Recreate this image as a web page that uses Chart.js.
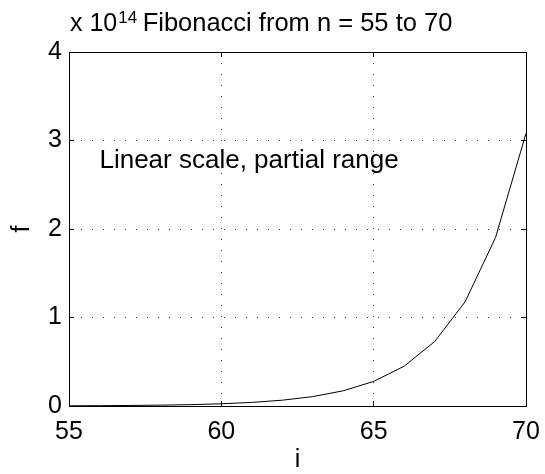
<!DOCTYPE html>
<html>
<head>
<meta charset="utf-8">
<script src="https://cdn.jsdelivr.net/npm/chart.js@4/dist/chart.umd.min.js"></script>
<style>
  html, body { margin: 0; padding: 0; background: #fff; }
  #wrap { width: 545px; height: 474px; }
</style>
</head>
<body>
<div id="wrap"><canvas id="c" width="545" height="474"></canvas></div>
<script>
// ---- data (f in units of 1e14) ----
const iValues = [55, 56, 57, 58, 59, 60, 61, 62, 63, 64, 65, 66, 67, 68, 69, 70];
const fValues = [0.00226, 0.00365, 0.00591, 0.00957, 0.01548, 0.02505, 0.04053, 0.06557,
                 0.10610, 0.17168, 0.27778, 0.44946, 0.72723, 1.17669, 1.90392, 3.08062];
const xTicks = [55, 60, 65, 70];
const yTicks = [0, 1, 2, 3, 4];
const titleText = 'Fibonacci from n = 55 to 70';
const exponentBase = 'x 10';
const exponentPower = '14';
const xLabel = 'i';
const yLabel = 'f';
const noteText = 'Linear scale, partial range';
const noteAt = [56, 2.69];

const FONT = '"Liberation Sans", Arial, Helvetica, sans-serif';
const FS = 25;

const decorations = {
  id: 'decorations',
  afterDraw(chart) {
    const ctx = chart.ctx;
    const a = chart.chartArea;
    const xs = chart.scales.x, ys = chart.scales.y;
    ctx.save();
    ctx.fillStyle = '#000';
    ctx.textBaseline = 'alphabetic';
    ctx.font = '25.5px ' + FONT;
    ctx.textAlign = 'center';
    ctx.fillText(titleText, (a.left + a.right) / 2, 31);
    ctx.textAlign = 'left';
    ctx.font = FS + 'px ' + FONT;
    ctx.fillText(exponentBase, a.left + 1, 31);
    const w = ctx.measureText(exponentBase).width;
    ctx.font = '17px ' + FONT;
    ctx.fillText(exponentPower, a.left + w + 2, 23);
    ctx.font = '26px ' + FONT;
    ctx.fillText(noteText, xs.getPixelForValue(noteAt[0]), ys.getPixelForValue(noteAt[1]));
    ctx.restore();
  }
};

const gridOpts = { drawTicks: true, tickLength: -5, tickColor: '#000', tickWidth: 1, color: 'rgba(0,0,0,0.75)', lineWidth: 1 };
const borderOpts = { display: true, color: '#000', width: 1, dash: [1, 10] };
const zeroPad = s => { s.paddingLeft = 0; s.paddingRight = 0; s.paddingTop = 0; s.paddingBottom = 0; };

new Chart(document.getElementById('c'), {
  type: 'line',
  data: {
    datasets: [{
      data: iValues.map((x, k) => ({ x: x, y: fValues[k] })),
      borderColor: '#000',
      borderWidth: 1,
      pointRadius: 0,
      tension: 0,
      fill: false
    }]
  },
  options: {
    responsive: false,
    animation: false,
    events: [],
    layout: { padding: { top: 52, right: 19, left: 0, bottom: 0 } },
    plugins: { legend: { display: false }, tooltip: { enabled: false }, title: { display: false } },
    scales: {
      x: {
        type: 'linear', position: 'bottom',
        min: 55, max: 70,
        afterBuildTicks: s => { s.ticks = xTicks.map(v => ({ value: v })); },
        afterFit: s => { s.height = 68; zeroPad(s); },
        ticks: { color: '#000', font: { family: FONT, size: FS }, padding: 16, maxRotation: 0 },
        grid: gridOpts,
        border: borderOpts,
        title: { display: true, text: xLabel, color: '#000', font: { family: FONT, size: FS, lineHeight: 1 }, padding: { top: 0, bottom: 1 } }
      },
      y: {
        type: 'linear', position: 'left',
        min: 0, max: 4,
        afterBuildTicks: s => { s.ticks = yTicks.map(v => ({ value: v })); },
        afterFit: s => { s.width = 69; zeroPad(s); },
        ticks: { color: '#000', font: { family: FONT, size: FS }, padding: 12 },
        grid: gridOpts,
        border: borderOpts,
        title: { display: true, text: yLabel, color: '#000', font: { family: FONT, size: FS, lineHeight: 1 }, padding: { top: 10, bottom: 0 } }
      },
      x2: {
        type: 'linear', position: 'top',
        min: 55, max: 70,
        afterBuildTicks: s => { s.ticks = xTicks.map(v => ({ value: v })); },
        afterFit: s => { s.height = 0; zeroPad(s); },
        ticks: { display: false },
        grid: { drawOnChartArea: false, drawTicks: true, tickLength: -5, tickColor: '#000', tickWidth: 1 },
        border: { display: true, color: '#000', width: 1 }
      },
      y2: {
        type: 'linear', position: 'right',
        min: 0, max: 4,
        afterBuildTicks: s => { s.ticks = yTicks.map(v => ({ value: v })); },
        afterFit: s => { s.width = 0; zeroPad(s); },
        ticks: { display: false },
        grid: { drawOnChartArea: false, drawTicks: true, tickLength: -5, tickColor: '#000', tickWidth: 1 },
        border: { display: true, color: '#000', width: 1 }
      }
    }
  },
  plugins: [decorations]
});
</script>
</body>
</html>
